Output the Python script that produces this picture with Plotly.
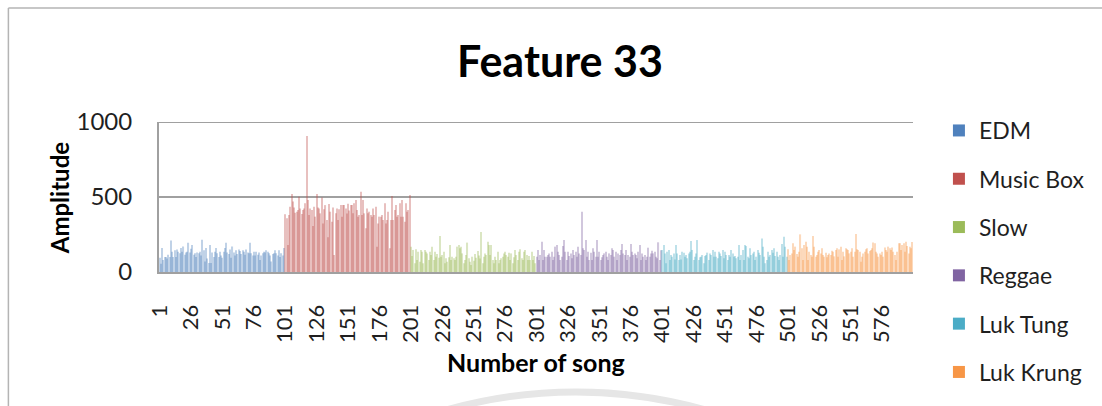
import plotly.graph_objects as go

# Feature 33 amplitude per song, 100 songs per genre
edm = [
    95, 55, 160, 80, 100, 100, 90, 115, 100, 210,
    135, 100, 145, 100, 150, 135, 125, 160, 135, 170,
    115, 130, 135, 195, 130, 155, 180, 115, 125, 100,
    130, 125, 135, 110, 215, 145, 70, 160, 90, 60,
    180, 60, 130, 100, 135, 160, 125, 100, 135, 110,
    95, 135, 160, 195, 130, 120, 150, 95, 170, 130,
    110, 145, 120, 150, 140, 120, 145, 135, 115, 150,
    130, 125, 195, 125, 110, 135, 110, 135, 115, 130,
    80, 110, 125, 135, 130, 145, 135, 125, 110, 70,
    120, 125, 145, 125, 110, 145, 100, 125, 110, 160,
]
music_box = [
    385, 358, 180, 380, 435, 520, 470, 430, 395, 402,
    413, 502, 424, 387, 413, 424, 458, 907, 480, 380,
    424, 413, 307, 435, 369, 520, 430, 424, 391, 496,
    324, 418, 446, 347, 231, 453, 402, 335, 430, 113,
    391, 424, 347, 418, 446, 369, 446, 446, 424, 390,
    455, 410, 446, 446, 391, 458, 480, 413, 369, 380,
    535, 380, 480, 391, 291, 424, 391, 402, 380, 369,
    424, 380, 435, 169, 324, 369, 369, 380, 347, 458,
    324, 347, 402, 158, 347, 507, 347, 413, 446, 369,
    380, 458, 369, 480, 369, 335, 458, 402, 413, 513,
]
slow = [
    169, 107, 147, 58, 151, 80, 135, 69, 147, 135,
    58, 147, 135, 124, 80, 135, 113, 169, 80, 135,
    102, 120, 95, 240, 102, 113, 135, 58, 91, 69,
    98, 180, 80, 102, 91, 80, 102, 169, 180, 158,
    169, 124, 58, 80, 113, 196, 91, 69, 47, 102,
    75, 120, 95, 140, 110, 90, 267, 58, 102, 124,
    113, 202, 180, 113, 180, 80, 58, 102, 80, 135,
    58, 80, 91, 102, 124, 135, 113, 102, 129, 80,
    124, 58, 98, 147, 113, 80, 135, 151, 91, 80,
    135, 147, 113, 80, 107, 80, 135, 80, 107, 58,
]
reggae = [
    102, 147, 80, 113, 202, 80, 147, 102, 102, 113,
    124, 102, 135, 80, 102, 169, 180, 135, 113, 80,
    102, 173, 213, 135, 80, 135, 107, 124, 91, 147,
    113, 135, 102, 169, 124, 113, 402, 158, 147, 213,
    102, 135, 80, 129, 80, 158, 135, 102, 213, 102,
    135, 80, 98, 113, 124, 135, 102, 80, 124, 113,
    158, 147, 102, 135, 80, 124, 113, 147, 187, 124,
    113, 147, 80, 113, 102, 187, 135, 113, 124, 113,
    91, 135, 180, 80, 124, 102, 113, 80, 102, 162,
    102, 124, 142, 124, 135, 102, 91, 198, 80, 145,
]
luk_tung = [
    147, 180, 124, 58, 135, 147, 80, 113, 102, 124,
    84, 180, 124, 80, 113, 84, 135, 129, 102, 113,
    91, 124, 135, 207, 147, 80, 102, 124, 213, 80,
    98, 102, 113, 58, 107, 113, 129, 80, 124, 113,
    147, 102, 135, 102, 91, 135, 124, 107, 147, 91,
    135, 113, 80, 113, 102, 147, 124, 102, 107, 91,
    102, 180, 80, 113, 147, 80, 180, 173, 102, 91,
    158, 113, 124, 135, 80, 102, 147, 129, 113, 224,
    169, 102, 58, 80, 135, 102, 113, 147, 129, 158,
    107, 135, 102, 80, 113, 187, 102, 235, 169, 102,
]
luk_krung = [
    151, 80, 113, 124, 191, 147, 169, 120, 102, 135,
    251, 158, 80, 180, 202, 169, 80, 135, 113, 102,
    240, 169, 102, 113, 135, 147, 124, 158, 113, 102,
    129, 98, 113, 124, 113, 142, 135, 104, 147, 158,
    102, 151, 169, 80, 135, 104, 158, 151, 147, 124,
    135, 158, 102, 135, 253, 151, 147, 135, 69, 102,
    124, 135, 151, 158, 124, 140, 147, 158, 196, 191,
    135, 124, 102, 124, 113, 135, 102, 164, 147, 135,
    169, 158, 147, 164, 135, 113, 80, 135, 191, 191,
    147, 180, 191, 135, 202, 173, 124, 169, 158, 200,
]

genres = ["EDM", "Music Box", "Slow", "Reggae", "Luk Tung", "Luk Krung"]
series = [edm, music_box, slow, reggae, luk_tung, luk_krung]
colors = ["#4F81BD", "#C0504D", "#9BBB59", "#8064A2", "#4BACC6", "#F79646"]
tick_labels = [str(v) for v in range(1, 600, 25)]

# plot area in pixels
W_FIG, H_FIG = 1102, 406
L, R, T, B = 159, 187, 122, 134
PW, PH = W_FIG - L - R, H_FIG - T - B


def px(xp):
    return (xp - L) / PW


def py(yp):
    return (H_FIG - B - yp) / PH


FONT = "Lato"
TXT = "#1f1f1f"
GRID = "#a0a0a0"

fig = go.Figure()

start = 1
for name, vals, col in zip(genres, series, colors):
    fig.add_trace(go.Bar(
        x=list(range(start, start + len(vals))), y=vals,
        marker=dict(color=col, opacity=0.36, line=dict(width=0)),
        showlegend=False, name=name, hoverinfo="x+y+name",
    ))
    start += len(vals)

# legend entries in full colour
for name, col in zip(genres, colors):
    fig.add_trace(go.Bar(
        x=[None], y=[None], name=name, legendgroup=name,
        marker=dict(color=col, line=dict(width=0)),
    ))

fig.update_layout(
    width=W_FIG, height=H_FIG, autosize=False,
    margin=dict(l=L, r=R, t=T, b=B, pad=0),
    paper_bgcolor="white", plot_bgcolor="white",
    barmode="overlay", bargap=0.12,
    font=dict(family=FONT, color=TXT),
    legend=dict(
        x=px(941), y=py(109), xanchor="left", yanchor="top",
        font=dict(family=FONT, size=23, color=TXT),
        tracegroupgap=15.4, itemclick=False, bgcolor="rgba(0,0,0,0)",
        maxheight=1.0,
    ),
    xaxis=dict(
        range=[0.5, 600.5], tickmode="array",
        tickvals=[int(t) for t in tick_labels], ticktext=tick_labels,
        tickangle=-90, ticks="", ticklabelstandoff=22,
        tickfont=dict(family=FONT, size=22, color=TXT),
        showgrid=False, zeroline=False,
        showline=True, linecolor=GRID, linewidth=2,
    ),
    yaxis=dict(
        range=[0, 1000], tickmode="array", tickvals=[0, 500, 1000],
        ticks="", ticklabelstandoff=20,
        tickfont=dict(family=FONT, size=24, color=TXT),
        showgrid=True, gridcolor=GRID, gridwidth=2,
        zeroline=False, showline=True, linecolor=GRID, linewidth=2,
    ),
    annotations=[
        dict(text="Feature 33", xref="paper", yref="paper",
             x=px(561), y=py(60), xanchor="center", yanchor="middle",
             showarrow=False, font=dict(family=FONT, size=43, color="#000", weight="bold")),
        dict(text="Amplitude", xref="paper", yref="paper",
             x=px(59), y=py(198), xanchor="center", yanchor="middle", textangle=-90,
             showarrow=False, font=dict(family=FONT, size=24, color="#000", weight="bold")),
        dict(text="Number of song", xref="paper", yref="paper",
             x=px(537), y=py(362), xanchor="center", yanchor="middle",
             showarrow=False, font=dict(family=FONT, size=25, color="#000", weight="bold")),
    ],
    shapes=[
        # top gridline at 1000
        dict(type="line", xref="paper", yref="y", x0=0, x1=1, y0=1000, y1=1000,
             line=dict(color=GRID, width=2), layer="below"),
        # chart frame
        dict(type="line", xref="paper", yref="paper",
             x0=px(8), x1=px(1110), y0=py(8), y1=py(8),
             line=dict(color="#b4b4b4", width=1.5)),
        dict(type="line", xref="paper", yref="paper",
             x0=px(8), x1=px(8), y0=py(8), y1=py(420),
             line=dict(color="#b4b4b4", width=1.5)),
        # faint page emblem arc below the chart
        dict(type="circle", xref="paper", yref="paper",
             x0=px(577 - 477), x1=px(577 + 477), y0=py(392), y1=py(392 + 2 * 477),
             line=dict(color="#e6e6e6", width=7), fillcolor="rgba(0,0,0,0)", layer="below"),
    ],
)

fig.write_html("out.html")
